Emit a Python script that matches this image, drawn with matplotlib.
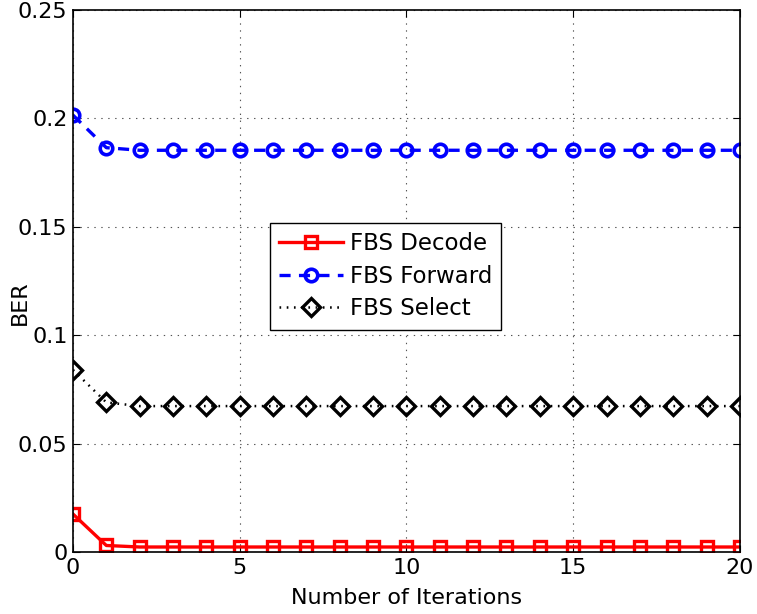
import matplotlib
matplotlib.use("Agg")
import matplotlib.pyplot as plt

plt.rcParams['font.family'] = ['DejaVu Sans']
plt.rcParams['lines.scale_dashes'] = False

# iterations 0..20
iters = list(range(21))
ber_decode = [0.0175, 0.0030] + [0.0023] * 19
ber_forward = [0.2015, 0.1865] + [0.1853] * 19
ber_select = [0.0840, 0.0690] + [0.0673] * 19

fig = plt.figure(figsize=(7.57, 6.14), dpi=100)
ax = fig.add_axes([0.0964, 0.101, 0.881, 0.8827])

ax.plot(iters, ber_decode, color='red', linestyle='-', linewidth=2.4,
        marker='s', markersize=8, markerfacecolor='none', markeredgewidth=2.4,
        label='FBS Decode')
ax.plot(iters, ber_forward, color='blue', linestyle=(0, (8, 6)), linewidth=2.4,
        marker='o', markersize=9, markerfacecolor='none', markeredgewidth=2.6,
        label='FBS Forward')
ax.plot(iters, ber_select, color='black', linestyle=(0, (1.2, 4)), linewidth=1.8,
        marker='D', markersize=9, markerfacecolor='none', markeredgewidth=2.4,
        label='FBS Select')

ax.set_xlim(0, 20)
ax.set_ylim(0, 0.25)
ax.set_xticks([0, 5, 10, 15, 20])
ax.set_yticks([0, 0.05, 0.1, 0.15, 0.2, 0.25])
ax.set_yticklabels(['0', '0.05', '0.1', '0.15', '0.2', '0.25'])
ax.tick_params(direction='in', top=True, right=True, length=5, labelsize=16, pad=4)
ax.grid(True, color='#555555', linestyle=(0, (1, 4)), linewidth=0.8)
for s in ax.spines.values():
    s.set_linewidth(1.2)

ax.set_xlabel('Number of Iterations', fontsize=16)
ax.xaxis.set_label_coords(0.5, -0.066)
ax.set_ylabel('BER', fontsize=16)
ax.yaxis.set_label_coords(-0.064, 0.46)

leg = ax.legend(loc='upper left', bbox_to_anchor=(0.295, 0.607), fontsize=16.5,
                handlelength=2.8, frameon=True, fancybox=False, framealpha=1,
                edgecolor='black', borderpad=0.4, labelspacing=0.42,
                handletextpad=0.3, borderaxespad=0)
leg.get_frame().set_linewidth(1.0)

fig.savefig('out.png', dpi=100)
